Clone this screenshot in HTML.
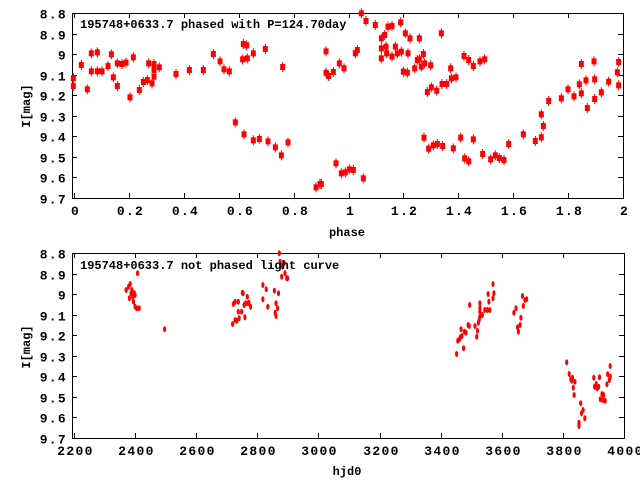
<!DOCTYPE html>
<html><head><meta charset="utf-8"><style>
body{margin:0;background:#fff}
svg{display:block}
text{font-family:"Liberation Mono","DejaVu Sans Mono",monospace;font-weight:bold;font-size:12px;fill:#000}
text.t{font-size:13px;letter-spacing:1.3px}
</style></head><body>
<svg id="s" width="640" height="480" xmlns="http://www.w3.org/2000/svg">
<rect width="640" height="480" fill="#fff"/>
<g id="g"></g>
<text x="80" y="28">195748+0633.7 phased with P=124.70day</text>
<text x="80" y="269">195748+0633.7 not phased light curve</text>
<text transform="translate(30,106) rotate(-90)" text-anchor="middle">I[mag]</text>
<text transform="translate(30,347) rotate(-90)" text-anchor="middle">I[mag]</text>
<text x="347" y="236" text-anchor="middle">phase</text>
<text x="347" y="475" text-anchor="middle">hjd0</text>
</svg>
<script>
var g=document.getElementById('g'),h='';
function line(a,b,c,d){h+='<line x1="'+a+'" y1="'+b+'" x2="'+c+'" y2="'+d+'" stroke="#000" stroke-width="1"/>';}
function txt(x,y,s,anc){h+='<text class="t" x="'+x+'" y="'+y+'" text-anchor="'+anc+'">'+s+'</text>';}
function frame(L,T,R,B,ylab,xlab){
 h+='<rect x="'+L+'.5" y="'+T+'.5" width="'+(R-L)+'" height="'+(B-T)+'" fill="none" stroke="#000"/>';
 for(var i=0;i<10;i++){var y=Math.round(T+(B-T)*i/9)+.5;line(L,y,L+5,y);line(R-5,y,R,y);txt(L-5,y+5,ylab[i],'end');}
 var n=xlab.length;for(var i=0;i<n;i++){var x=Math.round(L+2+(R-L-2)*i/(n-1))+.5;line(x,T,x,T+5);line(x,B-5,x,B);txt(x+1,B+17,xlab[i],'middle');}
}
var yl=['8.8','8.9','9','9.1','9.2','9.3','9.4','9.5','9.6','9.7'];
frame(72,13,623,198,yl,['0','0.2','0.4','0.6','0.8','1','1.2','1.4','1.6','1.8','2']);
frame(72,253,624,438,yl,['2200','2400','2600','2800','3000','3200','3400','3600','3800','4000']);
var p1=[[220,235],[220,258],[244,195],[262,268],[274,160],[274,214],[292,157],[292,214],[306,214],[324,198],[334,163],[340,232],[352,190],[352,258],[366,192],[378,188],[390,292],[400,172],[418,270],[430,246],[442,240],[446,190],[456,250],[462,192],[462,230],[462,210],[478,202],[528,222],[568,210],[610,210],[640,162],[660,184],[672,208],[688,214],[706,367],[730,132],[740,136],[742,175],[728,178],[732,403],[760,160],[760,421],[778,417],[796,147],[804,424],[826,442],[844,466],[848,201],[864,427],[948,562],[960,552]];
var p2=[[4,552],[18,154],[18,218],[26,228],[40,216],[48,490],[58,190],[64,520],[72,205],[76,517],[88,508],[100,510],[106,160],[112,150],[124,40],[130,535],[138,63],[166,75],[184,145],[184,115],[184,175],[194,105],[198,140],[200,160],[204,80],[216,78],[216,170],[226,140],[232,160],[242,67],[244,155],[250,215],[256,100],[262,218],[264,160],[270,115],[284,205],[292,180],[298,115],[298,178],[304,200],[310,162],[312,413],[314,190],[322,276],[326,446],[332,196],[334,262],[340,436],[352,432],[350,272],[364,100],[366,252],[368,438],[380,252],[392,205],[394,235],[400,445],[408,232],[422,413],[432,168],[434,475],[446,180],[446,484],[460,198],[460,418],[480,184],[488,462],[494,178],[512,478],[526,466],[538,474],[552,480],[566,432],[610,403],[646,423],[664,343],[664,412],[670,378],[686,303],[724,295],[744,268],[762,289],[778,253],[784,192],[784,280],[798,241],[802,324],[822,184],[824,238],[824,297],[844,277],[866,245],[892,217],[896,186],[896,256]];
function sq(x,y){h+='<line x1="'+x+'" y1="'+(y-5)+'" x2="'+x+'" y2="'+(y+5)+'" stroke="#e00" stroke-width="1"/><rect x="'+(x-2.5)+'" y="'+(y-3)+'" width="5" height="6" fill="#f00"/>';}
p1.forEach(function(p){sq(p[0]/3,p[1]/3);});
p2.forEach(function(p){sq(p[0]/3+320,p[1]/3);});
var p3=[[308,150],[314,140],[316,175],[318,132],[320,160],[322,150],[324,170],[326,185],[328,160],[330,165],[330,200],[334,205],[336,100],[340,205],[402,268],[568,252],[570,192],[574,185],[574,240],[578,242],[582,215],[582,185],[584,235],[590,215],[592,158],[594,160],[596,195],[598,232],[600,190],[604,170],[606,190],[608,188],[612,200],[642,135],[642,178],[650,148],[654,200],[670,152],[672,218],[674,228],[674,190],[678,205],[680,160],[682,40],[684,65],[686,75],[688,110],[690,80],[694,70],[696,100],[700,115],[702,115],[1115,342],[1118,302],[1122,298],[1124,292],[1126,268],[1128,288],[1132,325],[1134,275],[1138,278],[1143,255],[1146,258],[1147,195],[1160,258],[1164,290],[1166,272],[1168,248],[1170,240],[1172,190],[1172,230],[1172,215],[1172,205],[1178,225],[1184,210],[1190,210],[1192,162],[1194,185],[1196,210],[1204,132],[1204,175],[1206,160],[1255,218],[1260,205],[1264,262],[1266,275],[1270,255],[1272,233],[1276,168],[1278,198],[1282,180],[1286,178],[1384,367],[1390,402],[1394,418],[1396,422],[1398,413],[1400,443],[1402,465],[1404,425],[1414,558],[1414,548],[1418,490],[1420,520],[1424,510],[1428,535],[1450,413],[1452,440],[1456,432],[1458,445],[1462,440],[1464,412],[1466,478],[1470,462],[1472,480],[1474,465],[1478,482],[1482,433],[1484,403],[1488,420],[1490,378],[1490,410]];
p3.forEach(function(p){h+='<ellipse cx="'+(p[0]/2.442).toFixed(1)+'" cy="'+(p[1]/3+240).toFixed(1)+'" rx="1.6" ry="3" fill="#f00"/>';});
g.innerHTML=h;
</script>
</body></html>
